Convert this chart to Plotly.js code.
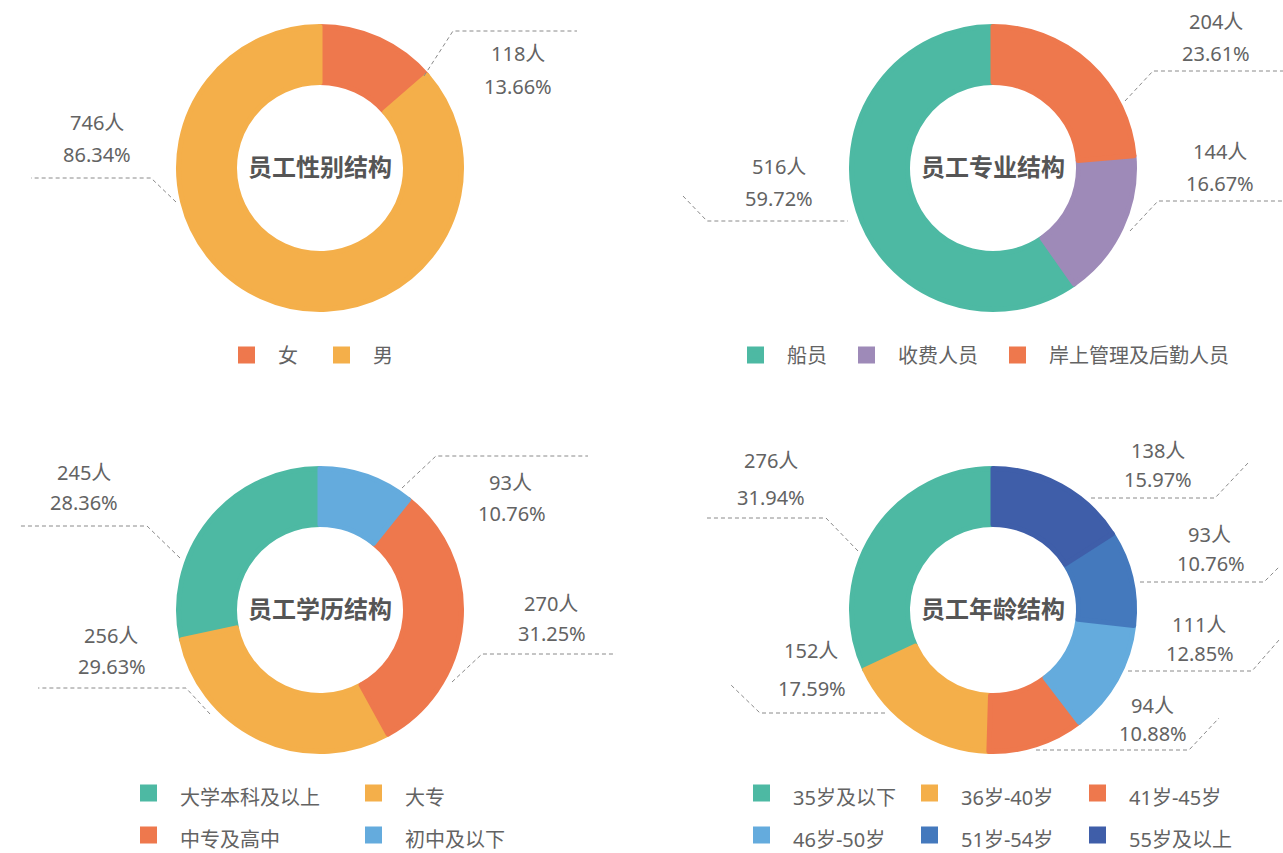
<!DOCTYPE html>
<html><head><meta charset="utf-8">
<script src="https://cdn.plot.ly/plotly-3.0.1.min.js"></script>
<style>
body{margin:0;background:#fff;overflow:hidden;width:1283px;height:853px}
.c{position:absolute}
</style>
</head><body>
<div id="tl" class="c" style="left:0px;top:0px;width:641px;height:426px"></div>
<div id="tr" class="c" style="left:641px;top:0px;width:642px;height:426px"></div>
<div id="bl" class="c" style="left:0px;top:426px;width:641px;height:427px"></div>
<div id="br" class="c" style="left:641px;top:426px;width:642px;height:427px"></div>
<script>
// ---------------- data ----------------
const genderTitle = '员工性别结构';
const genderLabels = ['女', '男'];
const genderValues = [118, 746];
const genderColors = ['#EE784D', '#F4AF4A'];

const majorTitle = '员工专业结构';
const majorLabels = ['船员', '收费人员', '岸上管理及后勤人员'];
const majorValues = [516, 144, 204];
const majorColors = ['#4DB9A3', '#9E8AB8', '#EE784D'];

const eduTitle = '员工学历结构';
const eduLabels = ['大学本科及以上', '大专', '中专及高中', '初中及以下'];
const eduValues = [245, 256, 270, 93];
const eduColors = ['#4DB9A3', '#F4AF4A', '#EE784D', '#64ABDD'];

const ageTitle = '员工年龄结构';
const ageLabels = ['35岁及以下', '36岁-40岁', '41岁-45岁', '46岁-50岁', '51岁-54岁', '55岁及以上'];
const ageValues = [276, 152, 94, 111, 93, 138];
const ageColors = ['#4DB9A3', '#F4AF4A', '#EE784D', '#64ABDD', '#4479BD', '#3F5EA9'];

const unit = '人';

// ---------------- layout (page pixel positions) ----------------
const FONT = 'Noto Sans, Noto Sans CJK SC, sans-serif';
const TXT = '#636363';
const LINE = '#8a8a8a';
const OUTER_R = 144, INNER_R = 83, EDGE = 5;
const ITEMW = 53;

const panels = [
  {id:'tl', left:0, top:0, w:641, h:426, cx:320, cy:168,
   title:genderTitle, labels:genderLabels, values:genderValues, colors:genderColors, direction:'clockwise',
   legend:{indent:7, sq:238, cy:355, rows:false},
   callouts:[
     {n:[518,53], p:[518,86], line:[[424,76],[453,31],[577,31]]},
     {n:[97,122], p:[97,154], line:[[176,202],[151,178],[31,178]]}
   ]},
  {id:'tr', left:641, top:0, w:642, h:426, cx:993, cy:168,
   title:majorTitle, labels:majorLabels, values:majorValues, colors:majorColors, direction:'counterclockwise',
   legend:{indent:3, sq:747, cy:355, rows:false},
   callouts:[
     {n:[779,166], p:[779,198], line:[[683,196],[707,221],[848,221]]},
     {n:[1220,151], p:[1220,183], line:[[1130,231],[1158,201],[1283,201]]},
     {n:[1216,21], p:[1216,53], line:[[1125,101],[1153,71],[1283,71]]}
   ]},
  {id:'bl', left:0, top:426, w:641, h:427, cx:320, cy:610,
   title:eduTitle, labels:eduLabels, values:eduValues, colors:eduColors, direction:'counterclockwise',
   legend:{indent:0, sq:140, cy:797, rows:true, entry:157},
   callouts:[
     {n:[84,472], p:[84,503], line:[[180,558],[147,526],[18,526]]},
     {n:[111,635], p:[112,667], line:[[210,714],[186,688],[38,688]]},
     {n:[551,603], p:[552,633], line:[[452,682],[482,654],[616,654]]},
     {n:[511,482], p:[512,513], line:[[402,488],[436,456],[588,456]]}
   ]},
  {id:'br', left:641, top:426, w:642, h:427, cx:993, cy:610,
   title:ageTitle, labels:ageLabels, values:ageValues, colors:ageColors, direction:'counterclockwise',
   legend:{indent:0, sq:753, cy:797, rows:true, entry:100},
   callouts:[
     {n:[771,461], p:[771,498], line:[[858,551],[826,518],[707,518]]},
     {n:[811,650], p:[812,688], line:[[885,713],[760,713],[731,685]]},
     {n:[1152,705], p:[1153,733], line:[[1036,750],[1189,750],[1219,718]]},
     {n:[1199,624], p:[1200,653], line:[[1128,671],[1252,671],[1279,640]]},
     {n:[1209,534], p:[1211,563], line:[[1140,582],[1264,582],[1279,567]]},
     {n:[1158,451], p:[1158,479], line:[[1091,498],[1215,498],[1248,463]]}
   ]}
];

function draw(P) {
  const fx = X => (X - P.left) / P.w;
  const fy = Y => 1 - (Y - P.top) / P.h;
  const r = OUTER_R - EDGE / 2;
  const lcx = P.cx - P.left, lcy = P.cy - P.top;
  const total = P.values.reduce((a, b) => a + b, 0);

  const big = P.legend.rows;
  const legFont = big ? 30 : 20;
  const legLabels = big ? P.labels.map(s => '<span style="font-size:20px">' + s + '</span>') : P.labels;

  // Plotly keeps the first slice in place for counterclockwise; rotate it so it starts at 12 o'clock
  const rot = P.direction === 'counterclockwise' ? -360 * P.values[0] / total : 0;

  const trace = {
    type: 'pie',
    labels: legLabels,
    values: P.values,
    sort: false,
    direction: P.direction,
    rotation: rot,
    hole: (INNER_R + EDGE / 2) / r,
    textinfo: 'none',
    hoverinfo: 'skip',
    marker: {colors: P.colors, line: {color: P.colors, width: EDGE}},
    domain: {x: [(lcx - r) / P.w, (lcx + r) / P.w], y: [1 - (lcy + r) / P.h, 1 - (lcy - r) / P.h]},
    title: {text: P.title, position: 'middle center', font: {family: FONT, size: 24, color: '#555555', weight: 700}}
  };

  const annotations = [];
  const shapes = [];
  P.callouts.forEach((c, i) => {
    const pct = (P.values[i] / total * 100).toFixed(2) + '%';
    annotations.push({x: fx(c.n[0]), y: fy(c.n[1]), xref: 'paper', yref: 'paper', showarrow: false,
      xanchor: 'center', yanchor: 'middle', text: P.values[i] + unit, font: {family: FONT, size: 20, color: TXT}});
    annotations.push({x: fx(c.p[0]), y: fy(c.p[1]), xref: 'paper', yref: 'paper', showarrow: false,
      xanchor: 'center', yanchor: 'middle', text: pct, font: {family: FONT, size: 20, color: TXT}});
    const path = c.line.map((pt, k) => (k ? 'L' : 'M') + fx(pt[0]) + ',' + fy(pt[1])).join(' ');
    shapes.push({type: 'path', xref: 'paper', yref: 'paper', path: path,
      line: {color: LINE, width: 1, dash: '4px,3px'}});
  });

  const lineH = legFont * 1.3;
  const legTop = P.legend.cy - 5 - (lineH + 3) / 2 - (big ? 4 : 0);
  const legend = {
    orientation: 'h',
    xanchor: 'left', yanchor: 'top',
    x: fx(P.legend.sq - P.legend.indent - 23),
    y: fy(legTop),
    indentation: P.legend.indent,
    itemwidth: ITEMW,
    font: {family: FONT, size: legFont, color: TXT},
    bgcolor: 'rgba(0,0,0,0)',
    traceorder: 'normal'
  };
  if (P.legend.entry) { legend.entrywidth = P.legend.entry; legend.entrywidthmode = 'pixels'; }

  const layout = {
    width: P.w, height: P.h,
    margin: {l: 0, r: 0, t: 0, b: 0, autoexpand: false},
    paper_bgcolor: '#ffffff', plot_bgcolor: '#ffffff',
    showlegend: true,
    legend: legend,
    annotations: annotations,
    shapes: shapes,
    font: {family: FONT, color: TXT}
  };
  Plotly.newPlot(P.id, [trace], layout, {staticPlot: true, displayModeBar: false});
}
panels.forEach(draw);
</script>
</body></html>
